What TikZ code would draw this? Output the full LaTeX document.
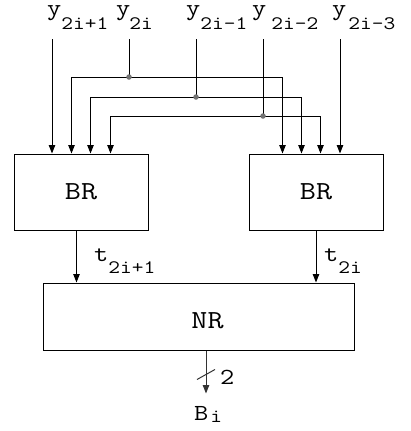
\documentclass[tikz,border=0pt]{standalone}
\usepackage{fontspec}
\usepackage{graphicx}
\usetikzlibrary{arrows.meta,calc}
\newcommand{\cw}[1]{\scalebox{1.2}[1]{#1}}
\newcommand{\mysub}[2][-13.5pt]{\raisebox{#1}{\fontsize{19}{19}\selectfont\cw{#2}}}
\tikzset{
  lab/.style={anchor=base west, inner sep=0pt, font=\ttfamily\fontsize{23}{23}\selectfont},
  smlab/.style={anchor=base west, inner sep=0pt, font=\ttfamily\fontsize{23}{23}\selectfont},
  bigtext/.style={font=\ttfamily\fontsize{26}{26}\selectfont},
  blk/.style={draw, line width=1pt, inner sep=0pt, bigtext},
  arr/.style={-{Triangle[length=8.5pt,width=6.5pt]}, line width=1pt},
  wire/.style={line width=1pt},
  jdot/.style={circle, fill=black!55, inner sep=0pt, minimum size=5.5pt}
}
\begin{document}
\begin{tikzpicture}[x=1pt,y=-1pt]
\useasboundingbox (0,0) rectangle (410,431);
% boxes
\node[blk, minimum width=134pt, minimum height=76pt] (br1) at (81,192) {\cw{BR}};
\node[blk, minimum width=134pt, minimum height=76pt] (br2) at (316,192) {\cw{BR}};
\node[blk, minimum width=311pt, minimum height=67pt] (nr) at (198.5,316.5) {};
\node[bigtext, anchor=base, inner sep=0pt] (nrt) at (207.5,328) {\cw{NR}};
% input labels
\node[lab] (ly1) at (47,15.5) {\cw{y}\mysub{2i+1}};
\node[lab] (ly2) at (116,15.5) {\cw{y}\hspace{-1pt}\mysub{2i}};
\node[lab] (ly3) at (186,15.5) {\cw{y}\mysub{2i-1}};
\node[lab] (ly4) at (252,15.5) {\cw{y}\hspace{5pt}\mysub{2i-2}};
\node[lab] (ly5) at (332,15.5) {\cw{y}\hspace{2pt}\mysub{2i-3}};
% wire starts
\coordinate (s1) at (52,39);
\coordinate (s2) at (129,39);
\coordinate (s3) at (196,39);
\coordinate (s4) at (263,39);
\coordinate (s5) at (340,39);
\coordinate (j1) at (129,77);
\coordinate (j2) at (196,97);
\coordinate (j3) at (263,116);
% straight inputs
\draw[arr] (s1) -- (s1 |- br1.north);
\draw[arr] (s5) -- (s5 |- br2.north);
\draw[wire] (s2) -- (j1);
\draw[wire] (s3) -- (j2);
\draw[wire] (s4) -- (j3);
% buses
\draw[arr] (j1) -| ($(br1.north west)+(58,0)$);
\draw[arr] (j1) -| ($(br2.north west)+(34,0)$);
\draw[arr] (j2) -| ($(br1.north west)+(77,0)$);
\draw[arr] (j2) -| ($(br2.north west)+(53,0)$);
\draw[arr] (j3) -| ($(br1.north west)+(97,0)$);
\draw[arr] (j3) -| ($(br2.north west)+(72,0)$);
\node[jdot] (d1) at (j1) {};
\node[jdot] (d2) at (j2) {};
\node[jdot] (d3) at (j3) {};
% BR outputs
\coordinate (o1) at ($(br1.south west)+(63,0)$);
\draw[arr] (o1) -- (o1 |- nr.north);
\draw[arr] (br2.south) -- (br2.south |- nr.north);
\node[lab] (t1) at (94,261) {\cw{t}\mysub[-12pt]{2i+1}};
\node[lab] (t2) at (324,261) {\cw{t}\mysub[-12pt]{2i}};
% NR output
\coordinate (o3) at ($(nr.south)+(7.5,0)$);
\coordinate (bo) at ($(o3)+(0,43)$);
\draw[arr, draw=black!80] (o3) -- (bo);
\draw[wire, draw=black!80] ($(o3)+(-9,29)$) -- ++(18,-10);
\node[smlab] (n2) at (220,384) {\cw{2}};
\node[smlab] (bi) at (194,420) {\cw{B}\hspace{2pt}\mysub[-2pt]{i}};
\end{tikzpicture}
\end{document}
